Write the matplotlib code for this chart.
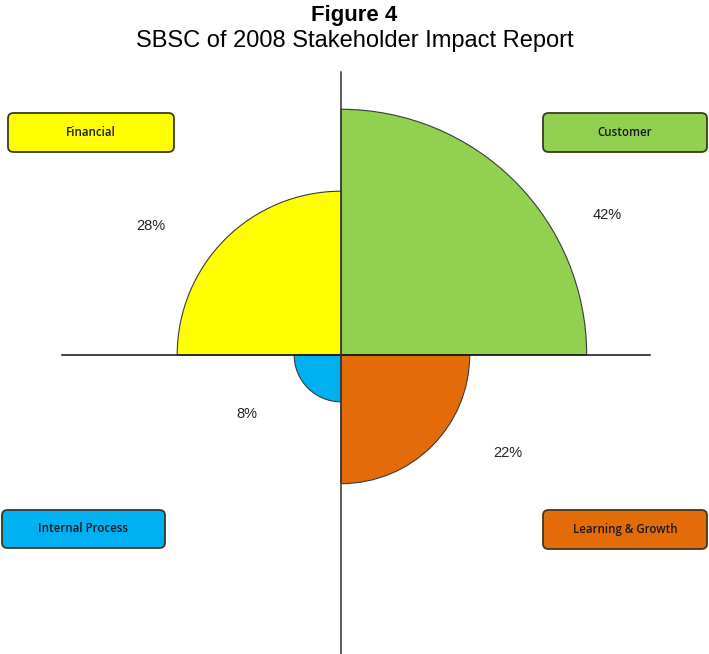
import matplotlib
matplotlib.use("Agg")
import matplotlib.pyplot as plt
from matplotlib.patches import Wedge, FancyBboxPatch

categories = ["Customer", "Financial", "Internal Process", "Learning & Growth"]
values = [42, 28, 8, 22]
labels = ["42%", "28%", "8%", "22%"]
colors = ["#92D050", "#FFFF00", "#00B0F0", "#E36C09"]
angles = [(0, 90), (90, 180), (180, 270), (270, 360)]

W, H = 709, 654
cx, cy = 341, 355   # centre in pixels
s = 5.85            # pixels per percentage point

fig = plt.figure(figsize=(W / 100, H / 100), dpi=100)
ax = fig.add_axes([0, 0, 1, 1])
ax.set_xlim(-cx / s, (W - cx) / s)
ax.set_ylim(-(H - cy) / s, cy / s)
ax.set_aspect("equal")
ax.axis("off")

for v, c, (a1, a2) in zip(values, colors, angles):
    ax.add_patch(Wedge((0, 0), v, a1, a2, facecolor=c, edgecolor="#3a3a3a", lw=0.8, zorder=2))

# axes lines
ax.plot([(62 - cx) / s, (650 - cx) / s], [0, 0], color="#111111", lw=1.1, zorder=3)
ax.plot([0, 0], [-(H - cy) / s, (cy - 72) / s], color="#333333", lw=1.1, zorder=3)

# percentage labels (pixel positions)
label_pos = [(607, 215), (151, 226), (247, 414), (508, 453)]
for t, (px, py) in zip(labels, label_pos):
    fig.text(px / W, 1 - py / H, t, ha="center", va="center", fontsize=10.5,
             family="Liberation Sans", color="#222222")

# category boxes (pixel rects: x0, y0, x1, y1)
box_rects = [(543, 113, 707, 152), (8, 113, 174, 152), (2, 510, 165, 548), (543, 510, 707, 549)]
for cat, c, (x0, y0, x1, y1) in zip(categories, colors, box_rects):
    bb = FancyBboxPatch((x0 / W, 1 - y1 / H), (x1 - x0) / W, (y1 - y0) / H,
                        boxstyle="round,pad=0,rounding_size=0.008",
                        transform=fig.transFigure, facecolor=c, edgecolor="#3a3a22",
                        lw=1.3, zorder=4)
    fig.patches.append(bb)
    fig.text((x0 + x1) / 2 / W, 1 - (y0 + y1) / 2 / H, cat, ha="center", va="center",
             fontsize=8.3, family="Open Sans", fontweight="semibold", color="#1a1a1a", zorder=5)

fig.text(0.5, 1 - 16 / H, "Figure 4", ha="center", va="center", fontsize=16,
         fontweight="bold", family="Liberation Sans")
fig.text(0.5, 1 - 41 / H, "SBSC of 2008 Stakeholder Impact Report", ha="center",
         va="center", fontsize=17, family="Liberation Sans")

fig.savefig("out.png", dpi=100, facecolor="white")
